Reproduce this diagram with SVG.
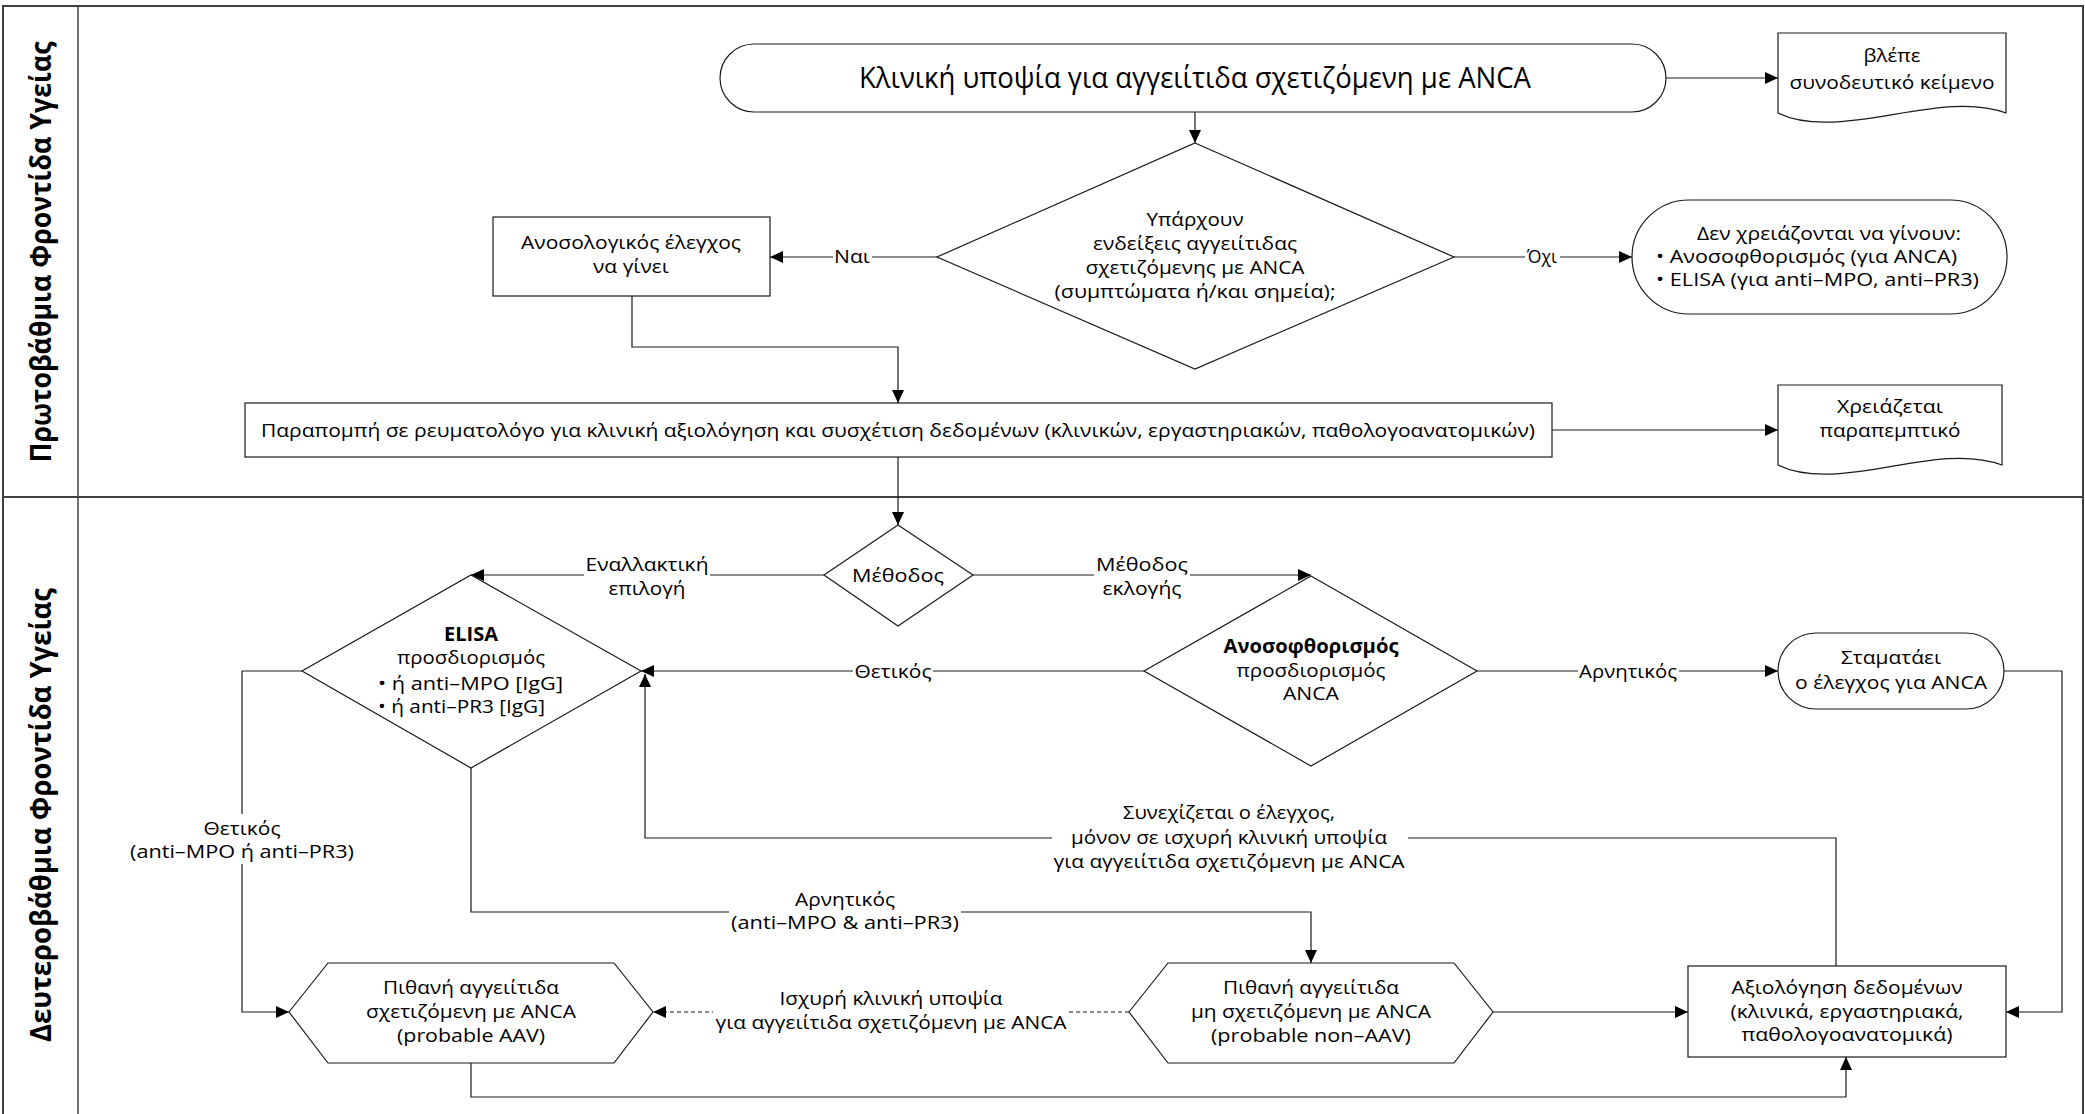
<svg xmlns="http://www.w3.org/2000/svg" width="2085" height="1114" viewBox="0 0 2085 1114">
<defs>
<marker id="arr" markerUnits="userSpaceOnUse" markerWidth="13" markerHeight="12" viewBox="0 0 13 12" refX="13" refY="6" orient="auto">
<path d="M0,0 L13,6 L0,12 Z" fill="#000"/>
</marker>
<style>
.ln{fill:none;stroke:#404040;stroke-width:2}
.sh{fill:#fff;stroke:#1a1a1a;stroke-width:1.2}
.cn{fill:none;stroke:#1a1a1a;stroke-width:1.2;marker-end:url(#arr)}
.dash{stroke-dasharray:4 3}
.bg{fill:#fff;stroke:none}
text{font-family:"Open Sans","Noto Sans","DejaVu Sans",sans-serif;font-size:19px;fill:#000}
.m{text-anchor:middle}
.b{font-weight:bold}
.lane{font-size:29px;font-weight:bold;text-anchor:middle}
.big{font-size:30px}
</style>
</defs>
<rect width="2085" height="1114" fill="#fff"/>
<g id="lanes">
<line class="ln" x1="2" y1="6" x2="2084" y2="6"/>
<line class="ln" x1="3" y1="6" x2="3" y2="1114"/>
<line class="ln" x1="2083" y1="6" x2="2083" y2="1114"/>
<line class="ln" x1="3" y1="497" x2="2083" y2="497"/>
<line class="ln" x1="78" y1="6" x2="78" y2="1114" style="stroke-width:1.5"/>
<text class="lane" transform="translate(51,252) rotate(-90)" textLength="421" lengthAdjust="spacingAndGlyphs">Πρωτοβάθμια Φροντίδα Υγείας</text>
<text class="lane" transform="translate(51,815) rotate(-90)" textLength="454" lengthAdjust="spacingAndGlyphs">Δευτεροβάθμια Φροντίδα Υγείας</text>
</g>
<g id="connectors">
<path class="cn" d="M1195,112 V143"/>
<path class="cn" d="M1666,78 H1778"/>
<path class="cn" d="M937,257 H770"/>
<path class="cn" d="M1454,257 H1632"/>
<path class="cn" d="M632,296 V347 H898 V403"/>
<path class="cn" d="M1552,430 H1778"/>
<path class="cn" d="M898,457 V525"/>
<path class="cn" d="M824,575 H471"/>
<path class="cn" d="M973,575 H1311"/>
<path class="cn" d="M1144,671 H641"/>
<path class="cn" d="M1477,671 H1778"/>
<path class="cn" d="M2004,671 H2062 V1012 H2006"/>
<path class="cn" d="M302,671 H242 V1012 H289"/>
<path class="cn" d="M471,768 V912 H1311 V963"/>
<path class="cn" d="M1836,966 V838 H645 V674"/>
<path class="cn" d="M471,1063 V1097 H1846 V1057"/>
<path class="cn" d="M1493,1012 H1688"/>
<path class="cn dash" d="M1129,1012 H653"/>
<g id="connector-labels">
<rect class="bg" x="833" y="246" width="39" height="22"/>
<text class="m" x="852" y="263" textLength="36" lengthAdjust="spacingAndGlyphs">Ναι</text>
<rect class="bg" x="1525" y="244" width="35" height="24"/>
<text class="m" x="1542" y="263" textLength="30" lengthAdjust="spacingAndGlyphs">Όχι</text>
<rect class="bg" x="584" y="554" width="126" height="48"/>
<text class="m" x="647" y="571" textLength="123" lengthAdjust="spacingAndGlyphs">Εναλλακτική</text>
<text class="m" x="647" y="595" textLength="77" lengthAdjust="spacingAndGlyphs">επιλογή</text>
<rect class="bg" x="1094" y="554" width="96" height="48"/>
<text class="m" x="1142" y="571" textLength="92" lengthAdjust="spacingAndGlyphs">Μέθοδος</text>
<text class="m" x="1142" y="595" textLength="79" lengthAdjust="spacingAndGlyphs">εκλογής</text>
<rect class="bg" x="853" y="659" width="80" height="24"/>
<text class="m" x="893" y="678" textLength="77" lengthAdjust="spacingAndGlyphs">Θετικός</text>
<rect class="bg" x="1578" y="659" width="101" height="24"/>
<text class="m" x="1628" y="678" textLength="98" lengthAdjust="spacingAndGlyphs">Αρνητικός</text>
<rect class="bg" x="128" y="814" width="228" height="50"/>
<text class="m" x="242" y="835" textLength="77" lengthAdjust="spacingAndGlyphs">Θετικός</text>
<text class="m" x="242" y="858" textLength="224" lengthAdjust="spacingAndGlyphs">(anti–MPO ή anti–PR3)</text>
<rect class="bg" x="729" y="887" width="232" height="48"/>
<text class="m" x="845" y="906" textLength="100" lengthAdjust="spacingAndGlyphs">Αρνητικός</text>
<text class="m" x="845" y="929" textLength="228" lengthAdjust="spacingAndGlyphs">(anti–MPO &amp; anti–PR3)</text>
<rect class="bg" x="1052" y="799" width="356" height="76"/>
<text class="m" x="1229" y="819" textLength="212" lengthAdjust="spacingAndGlyphs">Συνεχίζεται ο έλεγχος,</text>
<text class="m" x="1229" y="844" textLength="316" lengthAdjust="spacingAndGlyphs">μόνον σε ισχυρή κλινική υποψία</text>
<text class="m" x="1229" y="868" textLength="351" lengthAdjust="spacingAndGlyphs">για αγγειίτιδα σχετιζόμενη με ANCA</text>
<rect class="bg" x="713" y="987" width="356" height="48"/>
<text class="m" x="891" y="1005" textLength="223" lengthAdjust="spacingAndGlyphs">Ισχυρή κλινική υποψία</text>
<text class="m" x="891" y="1029" textLength="351" lengthAdjust="spacingAndGlyphs">για αγγειίτιδα σχετιζόμενη με ANCA</text>
</g>
</g>
<g id="start">
<rect class="sh" x="720" y="44" width="946" height="68" rx="34" ry="34"/>
<text class="m big" x="1195" y="88" textLength="672" lengthAdjust="spacingAndGlyphs">Κλινική υποψία για αγγειίτιδα σχετιζόμενη με ANCA</text>
</g>
<g id="doc-text">
<path class="sh" d="M1778,33 H2006 V113 C1940,88 1840,143 1778,113 Z"/>
<text class="m" x="1892" y="62" textLength="57" lengthAdjust="spacingAndGlyphs">βλέπε</text>
<text class="m" x="1892" y="89" textLength="205" lengthAdjust="spacingAndGlyphs">συνοδευτικό κείμενο</text>
</g>
<g id="decision-indications">
<polygon class="sh" points="1195,143 1454,257 1195,369 937,257"/>
<text class="m" x="1195" y="226" textLength="97" lengthAdjust="spacingAndGlyphs">Υπάρχουν</text>
<text class="m" x="1195" y="250" textLength="204" lengthAdjust="spacingAndGlyphs">ενδείξεις αγγειίτιδας</text>
<text class="m" x="1195" y="274" textLength="219" lengthAdjust="spacingAndGlyphs">σχετιζόμενης με ANCA</text>
<text class="m" x="1195" y="298" textLength="281" lengthAdjust="spacingAndGlyphs">(συμπτώματα ή/και σημεία);</text>
</g>
<g id="immuno-test">
<rect class="sh" x="493" y="217" width="277" height="79"/>
<text class="m" x="631" y="249" textLength="220" lengthAdjust="spacingAndGlyphs">Ανοσολογικός έλεγχος</text>
<text class="m" x="631" y="273" textLength="76" lengthAdjust="spacingAndGlyphs">να γίνει</text>
</g>
<g id="no-tests">
<rect class="sh" x="1632" y="200" width="375" height="114" rx="57" ry="57"/>
<text class="m" x="1829" y="240" textLength="264" lengthAdjust="spacingAndGlyphs">Δεν χρειάζονται να γίνουν:</text>
<text x="1656" y="263" textLength="301" lengthAdjust="spacingAndGlyphs">• Ανοσοφθορισμός (για ANCA)</text>
<text x="1656" y="286" textLength="323" lengthAdjust="spacingAndGlyphs">• ELISA (για anti–MPO, anti–PR3)</text>
</g>
<g id="referral">
<rect class="sh" x="245" y="403" width="1307" height="54"/>
<text class="m" x="898" y="437" textLength="1274" lengthAdjust="spacingAndGlyphs">Παραπομπή σε ρευματολόγο για κλινική αξιολόγηση και συσχέτιση δεδομένων (κλινικών, εργαστηριακών, παθολογοανατομικών)</text>
</g>
<g id="doc-referral">
<path class="sh" d="M1778,385 H2002 V465 C1935,440 1840,495 1778,465 Z"/>
<text class="m" x="1890" y="413" textLength="106" lengthAdjust="spacingAndGlyphs">Χρειάζεται</text>
<text class="m" x="1890" y="437" textLength="141" lengthAdjust="spacingAndGlyphs">παραπεμπτικό</text>
</g>
<g id="method">
<polygon class="sh" points="898,525 973,575 898,626 824,575"/>
<text class="m" x="898" y="582" textLength="92" lengthAdjust="spacingAndGlyphs">Μέθοδος</text>
</g>
<g id="elisa">
<polygon class="sh" points="471,575 641,671 471,768 302,671"/>
<text class="m b" x="471" y="641" textLength="54" lengthAdjust="spacingAndGlyphs">ELISA</text>
<text class="m" x="471" y="664" textLength="148" lengthAdjust="spacingAndGlyphs">προσδιορισμός</text>
<text x="378" y="690" textLength="185" lengthAdjust="spacingAndGlyphs">• ή anti–MPO [IgG]</text>
<text x="378" y="713" textLength="167" lengthAdjust="spacingAndGlyphs">• ή anti–PR3 [IgG]</text>
</g>
<g id="iif">
<polygon class="sh" points="1311,576 1477,671 1311,766 1144,671"/>
<text class="m b" x="1311" y="653" textLength="175" lengthAdjust="spacingAndGlyphs">Ανοσοφθορισμός</text>
<text class="m" x="1311" y="677" textLength="149" lengthAdjust="spacingAndGlyphs">προσδιορισμός</text>
<text class="m" x="1311" y="700" textLength="56" lengthAdjust="spacingAndGlyphs">ANCA</text>
</g>
<g id="stop">
<rect class="sh" x="1778" y="633" width="226" height="76" rx="38" ry="38"/>
<text class="m" x="1891" y="664" textLength="100" lengthAdjust="spacingAndGlyphs">Σταματάει</text>
<text class="m" x="1891" y="689" textLength="192" lengthAdjust="spacingAndGlyphs">ο έλεγχος για ANCA</text>
</g>
<g id="probable-aav">
<polygon class="sh" points="289,1012 328,963 614,963 653,1012 614,1063 328,1063"/>
<text class="m" x="471" y="994" textLength="176" lengthAdjust="spacingAndGlyphs">Πιθανή αγγειίτιδα</text>
<text class="m" x="471" y="1018" textLength="210" lengthAdjust="spacingAndGlyphs">σχετιζόμενη με ANCA</text>
<text class="m" x="471" y="1042" textLength="148" lengthAdjust="spacingAndGlyphs">(probable AAV)</text>
</g>
<g id="probable-non-aav">
<polygon class="sh" points="1129,1012 1168,963 1454,963 1493,1012 1454,1063 1168,1063"/>
<text class="m" x="1311" y="994" textLength="176" lengthAdjust="spacingAndGlyphs">Πιθανή αγγειίτιδα</text>
<text class="m" x="1311" y="1018" textLength="240" lengthAdjust="spacingAndGlyphs">μη σχετιζόμενη με ANCA</text>
<text class="m" x="1311" y="1042" textLength="200" lengthAdjust="spacingAndGlyphs">(probable non–AAV)</text>
</g>
<g id="data-evaluation">
<rect class="sh" x="1688" y="966" width="318" height="91"/>
<text class="m" x="1847" y="994" textLength="231" lengthAdjust="spacingAndGlyphs">Αξιολόγηση δεδομένων</text>
<text class="m" x="1847" y="1018" textLength="233" lengthAdjust="spacingAndGlyphs">(κλινικά, εργαστηριακά,</text>
<text class="m" x="1847" y="1041" textLength="211" lengthAdjust="spacingAndGlyphs">παθολογοανατομικά)</text>
</g>
</svg>
